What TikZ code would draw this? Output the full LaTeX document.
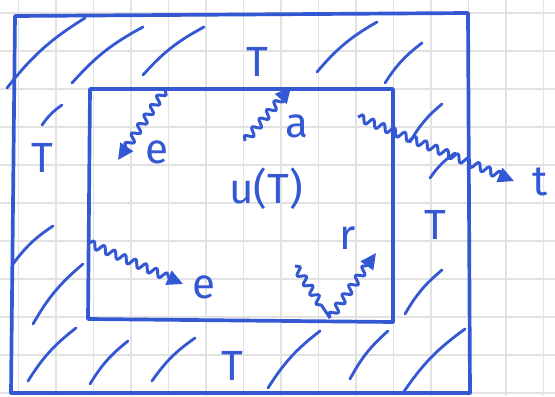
\documentclass[tikz,border=0pt]{standalone}
\usepackage{fontspec}
\setmainfont{Fira Sans}
\usepackage{tikz}
\usetikzlibrary{positioning, arrows.meta, decorations.pathmorphing}
\definecolor{pen}{RGB}{52,88,212}
\definecolor{gridgray}{RGB}{226,226,226}
\tikzset{
  border/.style={draw=pen, line width=2.1pt, line join=round, line cap=round},
  hatch/.style={draw=pen, line width=1.6pt, line cap=round},
  wavy/.style={draw=pen, line width=1.7pt, line join=round, decorate,
               decoration={snake, amplitude=2.2pt, segment length=6.5pt,
                           post length=7pt}},
  wavyarr/.style={wavy, -{Triangle[length=9pt, width=8.5pt]}},
  lbl/.style={text=pen, inner sep=0pt, font=\fontsize{24}{24}\selectfont},
}
\begin{document}
\begin{tikzpicture}[x=0.02cm, y=-0.02cm]
  \useasboundingbox (0,0) rectangle (555,396);
  \fill[white] (0,0) rectangle (555,396);
  \foreach \gx in {-19,18.5,...,555} \draw[gridgray, line width=0.7pt] (\gx,0) -- (\gx,396);
  \foreach \gy in {13,51,...,396} \draw[gridgray, line width=0.7pt] (0,\gy) -- (555,\gy);
  % blocks
  \draw[border] (15,16) -- (468,13) -- (470,393) -- (11,393) -- cycle;
  \draw[border] (90,89) -- (393,89) -- (393,322) -- (88,319) -- cycle;
  % hatching
  \foreach \xa/\ya/\xb/\yb in {7/88/85/18, 72/83/143/27, 143/75/204/27,
      42/125/62/105, 317/72/377/22, 385/83/422/43, 410/142/442/104,
      430/178/455/153, 13/264/53/226, 33/324/83/264, 28/381/76/328,
      90/384/128/341, 152/381/195/338, 268/388/320/331, 350/379/388/331,
      403/393/465/329, 405/314/442/270}
    \draw[hatch] (\xa,\ya) to[bend left=10] (\xb,\yb);
  % labels
  \node[lbl] (tTop) at (257,62) {T};
  \node[lbl] (tLeft) at (42,158) {T};
  \node[lbl] (tRight) at (435,225) {T};
  \node[lbl] (tBot) at (232,366) {T};
  \node[lbl] (uT) at (266,189) {u(T)};
  \node[lbl] (eUp) at (157,152) {e};
  \node[lbl] (aLbl) at (297,126) {a};
  \node[lbl] (eLow) at (204,287) {e};
  \node[lbl] (rLbl) at (348,238) {r};
  \node[lbl] (tOut) at (540,182) {t};
  % rays
  \coordinate (eUpS) at (165,90);   \coordinate (eUpE) at (118,160);
  \coordinate (aS) at (245,141);    \coordinate (aE) at (291,87);
  \coordinate (tS) at (358,117);    \coordinate (tE) at (514,181);
  \coordinate (eLowS) at (89,243);  \coordinate (eLowE) at (183,284);
  \coordinate (rS) at (295,266);    \coordinate (rM) at (330,318);
  \coordinate (rE) at (376,253);
  \draw[wavyarr] (eUpS) -- (eUpE);
  \draw[wavyarr] (aS) -- (aE);
  \draw[wavyarr] (tS) -- (tE);
  \draw[wavyarr] (eLowS) -- (eLowE);
  \draw[wavy] (rS) -- (rM);
  \draw[wavyarr] (rM) -- (rE);
\end{tikzpicture}
\end{document}
